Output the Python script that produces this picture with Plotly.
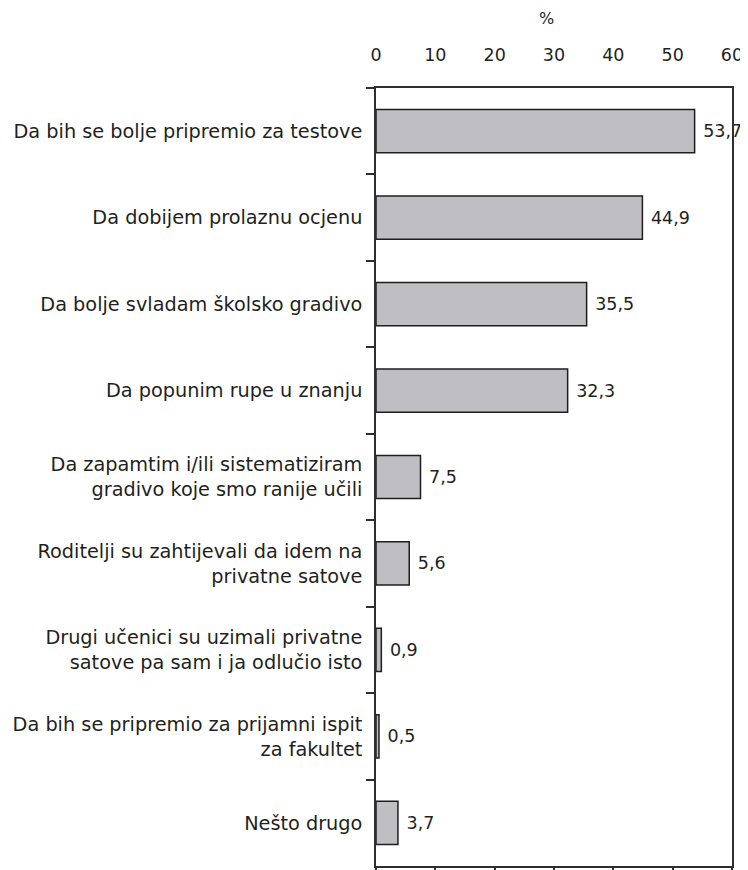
import plotly.graph_objects as go

categories = [
    "Da bih se bolje pripremio za testove",
    "Da dobijem prolaznu ocjenu",
    "Da bolje svladam školsko gradivo",
    "Da popunim rupe u znanju",
    "Da zapamtim i/ili sistematiziram<br>gradivo koje smo ranije učili",
    "Roditelji su zahtijevali da idem na<br>privatne satove",
    "Drugi učenici su uzimali privatne<br>satove pa sam i ja odlučio isto",
    "Da bih se pripremio za prijamni ispit<br>za fakultet",
    "Nešto drugo",
]
values = [53.7, 44.9, 35.5, 32.3, 7.5, 5.6, 0.9, 0.5, 3.7]
x_ticks = [0, 10, 20, 30, 40, 50, 60]
x_title = "%"

labels = [" " + f"{v:.1f}".replace(".", ",") for v in values]

FONT = "DejaVu Sans"
TXT = "#231f20"
LINE = "#2e2e2e"

fig = go.Figure()
fig.add_trace(go.Bar(
    x=values, y=categories, orientation="h",
    marker=dict(color="#bfbfc3", line=dict(color="#1e1e1e", width=1.5)),
    width=0.5,
    text=labels, textposition="outside", cliponaxis=False,
    textfont=dict(family=FONT, size=17.5, color=TXT),
    xaxis="x", yaxis="y", showlegend=False,
))
# invisible twin trace to activate the top axis
fig.add_trace(go.Bar(
    x=values, y=categories, orientation="h", width=0.5,
    marker=dict(color="rgba(0,0,0,0)", line=dict(width=0)), hoverinfo="skip",
    xaxis="x2", yaxis="y", showlegend=False,
))

# page body adds an 8px offset; compensate in size and margins
fig.update_layout(
    width=740, height=869,
    margin=dict(l=367, r=15, t=80, b=5),
    plot_bgcolor="white", paper_bgcolor="white",
    barmode="overlay",
    font=dict(family=FONT, size=17, color=TXT),
    xaxis=dict(
        range=[0, 60], tickvals=x_ticks, showticklabels=False,
        ticks="outside", ticklen=6, tickwidth=1.5, tickcolor=LINE,
        showline=True, linecolor=LINE, linewidth=1.5, mirror=True,
        showgrid=False, zeroline=False, side="bottom",
    ),
    xaxis2=dict(
        range=[0, 60], tickvals=x_ticks, ticktext=[str(t) for t in x_ticks],
        overlaying="x", side="top", matches="x",
        ticks="outside", ticklen=19, tickcolor="rgba(0,0,0,0)",
        tickfont=dict(family=FONT, size=17.5, color=TXT),
        showline=False, showgrid=False, zeroline=False,
    ),
    yaxis=dict(
        categoryorder="array", categoryarray=categories, autorange="reversed",
        tickson="boundaries", ticks="outside", ticklen=8, tickwidth=1.5,
        tickcolor=LINE, showline=True, linecolor=LINE, linewidth=1.5,
        mirror=True, showgrid=False, zeroline=False,
        ticklabelstandoff=8,
        tickfont=dict(family=FONT, size=19.3, color=TXT),
    ),
    annotations=[dict(
        text=x_title, xref="paper", yref="paper", x=0.48, y=1,
        yshift=81, showarrow=False, font=dict(family=FONT, size=16, color=TXT),
    )],
)

fig.write_html("out.html")
